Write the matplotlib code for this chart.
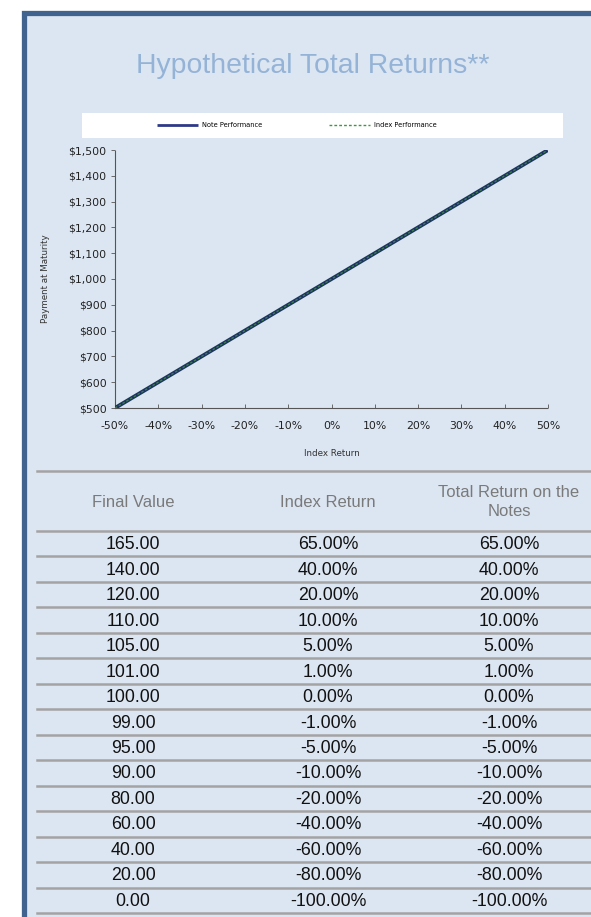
import matplotlib
matplotlib.use("Agg")
import matplotlib.pyplot as plt
from matplotlib.patches import Rectangle
from matplotlib.lines import Line2D
from matplotlib.ticker import FuncFormatter

# ---------------- data ----------------
index_return_pct = [-50, -40, -30, -20, -10, 0, 10, 20, 30, 40, 50]
note_payment = [500, 600, 700, 800, 900, 1000, 1100, 1200, 1300, 1400, 1500]
index_payment = [500, 600, 700, 800, 900, 1000, 1100, 1200, 1300, 1400, 1500]
y_ticks = [500, 600, 700, 800, 900, 1000, 1100, 1200, 1300, 1400, 1500]

title = "Hypothetical Total Returns**"
series_labels = ["Note Performance", "Index Performance"]
table_headers = ["Final Value", "Index Return", "Total Return on the\nNotes"]
final_values = ["165.00", "140.00", "120.00", "110.00", "105.00", "101.00", "100.00",
                "99.00", "95.00", "90.00", "80.00", "60.00", "40.00", "20.00", "0.00"]
index_returns = ["65.00%", "40.00%", "20.00%", "10.00%", "5.00%", "1.00%", "0.00%",
                 "-1.00%", "-5.00%", "-10.00%", "-20.00%", "-40.00%", "-60.00%",
                 "-80.00%", "-100.00%"]
note_returns = ["65.00%", "40.00%", "20.00%", "10.00%", "5.00%", "1.00%", "0.00%",
                "-1.00%", "-5.00%", "-10.00%", "-20.00%", "-40.00%", "-60.00%",
                "-80.00%", "-100.00%"]

# ---------------- layout helpers ----------------
W, H = 591, 917
fig = plt.figure(figsize=(W / 100, H / 100), dpi=100)
fig.patch.set_facecolor("white")

def fx(px):
    return px / W

def fy(py):
    return 1 - py / H

# panel background with border
panel = Rectangle((fx(24), fy(H + 20)), fx(W + 40) - fx(24), fy(13) - fy(H + 20),
                  transform=fig.transFigure, facecolor="#dce6f2",
                  edgecolor="#3f628f", linewidth=3.8, zorder=-10)
fig.patches.append(panel)

# title
fig.text(fx(313), fy(66), title, ha="center", va="center", fontsize=20.4,
         color="#95b3d7", family="Liberation Sans")

# legend white box
lbox = Rectangle((fx(82), fy(138)), fx(563) - fx(82), fy(113) - fy(138),
                 transform=fig.transFigure, facecolor="white", edgecolor="none",
                 zorder=-5)
fig.patches.append(lbox)

# ---------------- chart ----------------
ax = fig.add_axes([fx(115), fy(408), fx(548) - fx(115), fy(150) - fy(408)])
ax.set_facecolor("none")
l1, = ax.plot(index_return_pct, note_payment, color="#1c355e", lw=2.8,
              solid_capstyle="butt", zorder=3)
l2, = ax.plot(index_return_pct, index_payment, color="#3f7f50", lw=0.9,
              ls=(0, (2, 1.5)), zorder=4)
ax.set_xlim(-50, 50)
ax.set_ylim(500, 1500)
ax.set_xticks(index_return_pct)
ax.set_yticks(y_ticks)
ax.xaxis.set_major_formatter(FuncFormatter(lambda v, p: f"{int(round(v))}%"))
ax.yaxis.set_major_formatter(FuncFormatter(lambda v, p: f"${int(v):,}"))
for s in ["top", "right"]:
    ax.spines[s].set_visible(False)
for s in ["left", "bottom"]:
    ax.spines[s].set_color("#555555")
    ax.spines[s].set_linewidth(0.8)
    ax.spines[s].set_linestyle((0, (1.5, 1)))
ax.tick_params(axis="y", direction="out", length=3, width=0.6, colors="#555555",
               labelsize=7.8, labelcolor="#222222", pad=3)
ax.tick_params(axis="x", direction="in", length=3, width=0.6, colors="#555555",
               labelsize=7.8, labelcolor="#222222", pad=9)
ax.set_xlabel("Index Return", fontsize=6.3, color="#333333", labelpad=13)
ax.set_ylabel("Payment at Maturity", fontsize=6.3, color="#333333", labelpad=13)

leg = fig.legend([l1, l2], series_labels, loc="center", bbox_to_anchor=(fx(297), fy(125)),
                 ncol=2, frameon=False, fontsize=4.8, handlelength=6.2,
                 handletextpad=0.6, columnspacing=10, borderaxespad=0)
leg.get_lines()[0].set_color("#2f3a86")
leg.get_lines()[0].set_linewidth(2.0)
leg.get_lines()[1].set_color("#3a9a3a")
leg.get_lines()[1].set_linewidth(1.0)

# ---------------- table ----------------
line_color = "#a3a3a3"
x0, x1 = 37, W + 5
header_top = 471
header_bottom = 531
row_h = 25.47
col_x = [133, 328, 509]

def hline(py):
    fig.add_artist(Line2D([fx(x0), fx(x1)], [fy(py), fy(py)], transform=fig.transFigure,
                          color=line_color, lw=1.8))

hline(header_top)
hline(header_bottom)
for c, h in zip(col_x, table_headers):
    fig.text(fx(c), fy(502), h, ha="center", va="center", fontsize=12,
             color="#7a7a7a", family="Liberation Sans", linespacing=1.3)

for i, (a, b, c) in enumerate(zip(final_values, index_returns, note_returns)):
    top = header_bottom + i * row_h
    yc = top + row_h / 2 + 1
    for cx, t in zip(col_x, (a, b, c)):
        fig.text(fx(cx), fy(yc), t, ha="center", va="center", fontsize=12.8,
                 color="#111111", family="Liberation Sans")
    hline(top + row_h)

fig.savefig("out.png", dpi=100)
